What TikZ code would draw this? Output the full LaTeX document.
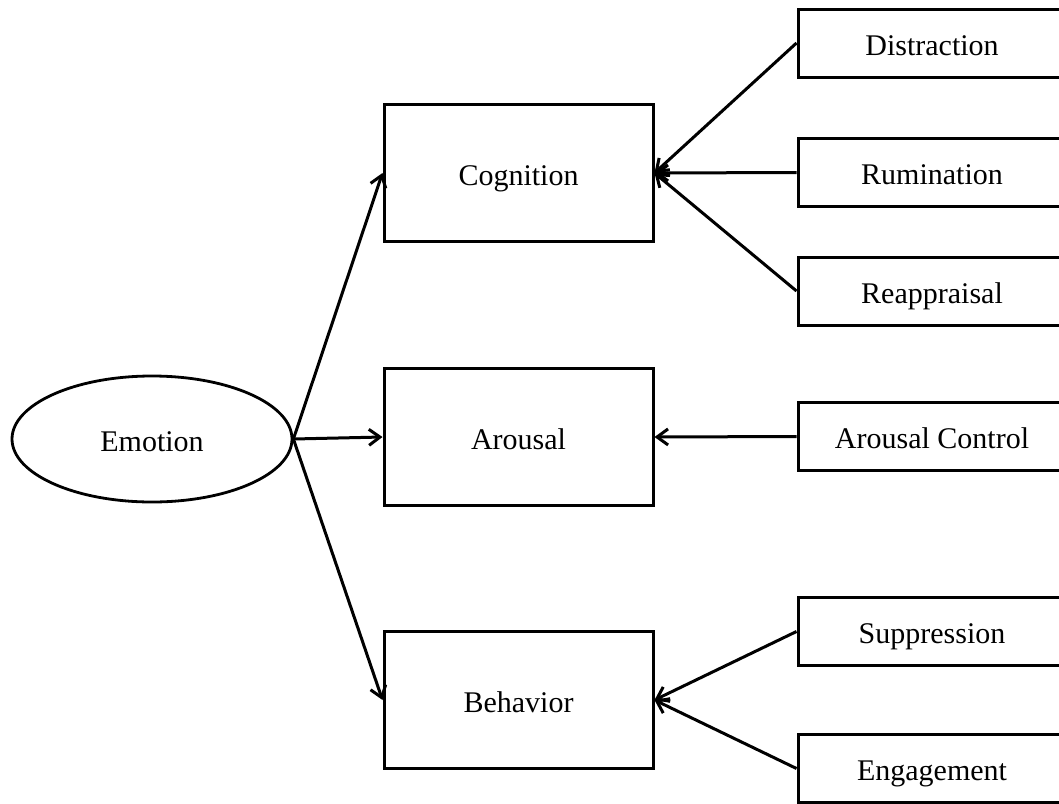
\documentclass[tikz,border=0pt]{standalone}
\usepackage{fontspec}
\setmainfont{Liberation Serif}
\usetikzlibrary{shapes.geometric,arrows.meta}
\begin{document}
\begin{tikzpicture}[x=1pt,y=-1pt,
  box/.style={draw,line width=3pt,rectangle,inner sep=0pt,text height=24pt,text depth=0pt,font=\fontsize{30}{36}\selectfont},
  mid/.style={box,minimum width=269pt,minimum height=137pt},
  side/.style={box,minimum width=268pt,minimum height=68pt},
  emo/.style={draw,line width=2.8pt,ellipse,inner sep=0pt,minimum width=280pt,minimum height=126pt,text height=24pt,text depth=0pt,font=\fontsize{30}{36}\selectfont},
  arr/.style={line width=3pt,-{Straight Barb[length=11pt,width=16pt,line width=3pt]}}]
\useasboundingbox (0,0) rectangle (1059,803);
\node[emo] (emo) at (152,439) {Emotion};
\node[mid] (cog) at (518.5,173) {Cognition};
\node[mid] (aro) at (518.5,437) {Arousal};
\node[mid] (beh) at (518.5,700) {Behavior};
\node[side] (dis) at (932,43) {Distraction};
\node[side] (rum) at (932,172.5) {Rumination};
\node[side] (rea) at (932,291) {Reappraisal};
\node[side] (ac) at (932,436.5) {Arousal Control};
\node[side] (sup) at (932,631.5) {Suppression};
\node[side] (eng) at (932,768.5) {Engagement};
\draw[arr] (emo.east) -- (cog.west);
\draw[arr] (emo.east) -- (aro.west);
\draw[arr] (emo.east) -- (beh.west);
\draw[arr] (dis.west) -- (cog.east);
\draw[arr] (rum.west) -- (cog.east);
\draw[arr] (rea.west) -- (cog.east);
\draw[arr] (ac.west) -- (aro.east);
\draw[arr] (sup.west) -- (beh.east);
\draw[arr] (eng.west) -- (beh.east);
\end{tikzpicture}
\end{document}
